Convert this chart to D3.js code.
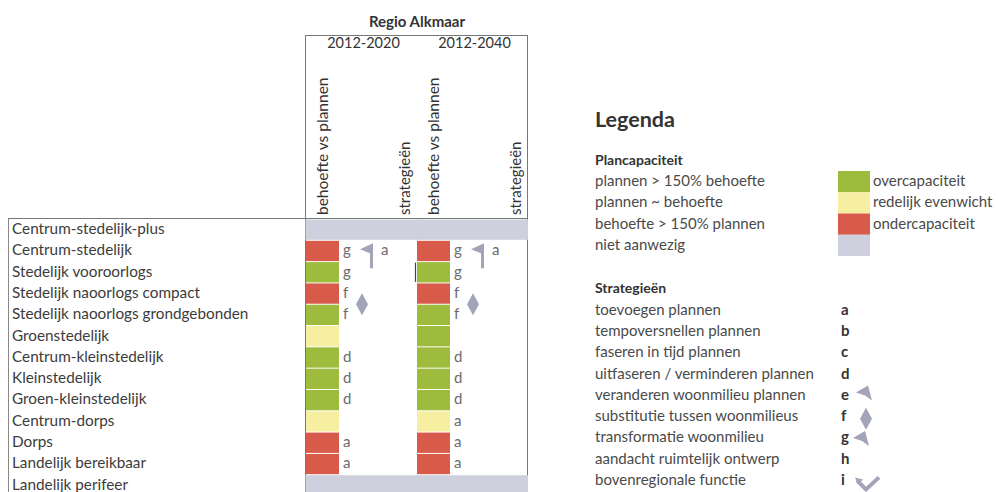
<!DOCTYPE html>
<html>
<head>
<meta charset="utf-8">
<script src="https://cdn.jsdelivr.net/npm/d3@7"></script>
<style>
  body { margin: 0; background: #fff; }
  text { font-family: Lato, "Noto Sans", sans-serif; }
</style>
</head>
<body>
<svg id="chart" width="998" height="492"></svg>
<script>
// woonmilieus (rows of the table)
const woonmilieus = [
    "Centrum-stedelijk-plus", "Centrum-stedelijk", "Stedelijk vooroorlogs",
    "Stedelijk naoorlogs compact", "Stedelijk naoorlogs grondgebonden", "Groenstedelijk",
    "Centrum-kleinstedelijk", "Kleinstedelijk", "Groen-kleinstedelijk",
    "Centrum-dorps", "Dorps", "Landelijk bereikbaar", "Landelijk perifeer"
];
const periods = ["2012-2020", "2012-2040"];

// plancapaciteit per periode: over / evenwicht / onder / na (niet aanwezig)
const capaciteit2020 = ["na", "onder", "over", "onder", "over", "evenwicht", "over", "over", "over", "evenwicht", "onder", "onder", "na"];
const capaciteit2040 = ["na", "onder", "over", "onder", "over", "over", "over", "over", "over", "evenwicht", "onder", "onder", "na"];

// strategie letters per periode
const strategie2020 = ["", "g", "g", "f", "f", "", "d", "d", "d", "", "a", "a", ""];
const strategie2040 = ["", "g", "g", "f", "f", "", "d", "d", "d", "a", "a", "a", ""];

// extra symbolen in de strategie kolom (zelfde in beide periodes)
const extraRows = ["Centrum-stedelijk", "Stedelijk naoorlogs compact"];
const extraIcons = ["g", "f"];
const extraLetters = ["a", ""];

// legenda
const planKlassen = ["over", "evenwicht", "onder", "na"];
const planOmschrijving = ["plannen > 150% behoefte", "plannen ~ behoefte", "behoefte > 150% plannen", "niet aanwezig"];
const planLabels = ["overcapaciteit", "redelijk evenwicht", "ondercapaciteit", ""];
const strategieCodes = ["a", "b", "c", "d", "e", "f", "g", "h", "i"];
const strategieNamen = [
    "toevoegen plannen", "tempoversnellen plannen", "faseren in tijd plannen",
    "uitfaseren / verminderen plannen", "veranderen woonmilieu plannen",
    "substitutie tussen woonmilieus", "transformatie woonmilieu",
    "aandacht ruimtelijk ontwerp", "bovenregionale functie"
];
const strategieMetIcoon = ["e", "f", "g", "i"];

const svg = d3.select("#chart");

const color = d3.scaleOrdinal()
    .domain(planKlassen)
    .range(["#9dbb3c", "#f6efa2", "#d75a4a", "#cfd0de"]);

const iconColor = "#a4a4b8";
const textColor = "#3c3c3c";

const y = d3.scaleBand().domain(woonmilieus).range([219, 496]);
const x = d3.scaleBand().domain(periods).range([306, 528]);
const cellW = 33;

// ---- frames
svg.append("rect")
    .attr("x", 8.5).attr("y", 218.5)
    .attr("width", 297).attr("height", 300)
    .attr("fill", "none").attr("stroke", "#888");

svg.append("rect")
    .attr("x", 305.5).attr("y", 35.5)
    .attr("width", 222).attr("height", 480)
    .attr("fill", "none").attr("stroke", "#777");

svg.append("line")
    .attr("x1", 8).attr("x2", 528)
    .attr("y1", 218.5).attr("y2", 218.5)
    .attr("stroke", "#777");

// ---- headers
svg.append("text")
    .attr("x", 417).attr("y", 27)
    .attr("text-anchor", "middle")
    .attr("font-size", 15).attr("font-weight", "bold")
    .attr("fill", "#333")
    .text("Regio Alkmaar");

svg.selectAll(".year")
    .data(periods)
    .enter().append("text")
    .attr("class", "year")
    .attr("x", d => x(d) + x.bandwidth() / 2 + 2)
    .attr("y", 48)
    .attr("text-anchor", "middle")
    .attr("font-size", 14.5)
    .attr("fill", "#333")
    .text(d => d);

periods.forEach(p => {
    [["behoefte vs plannen", 22, 15.5], ["strategieën", 104, 15]].forEach(([label, dx, fs]) => {
        svg.append("text")
            .attr("transform", `translate(${x(p) + dx},215) rotate(-90)`)
            .attr("font-size", fs)
            .attr("fill", "#333")
            .text(label);
    });
});

// ---- row labels
svg.selectAll(".rowlabel")
    .data(woonmilieus)
    .enter().append("text")
    .attr("class", "rowlabel")
    .attr("x", 12)
    .attr("y", d => y(d) + 15)
    .attr("font-size", 15.3)
    .attr("fill", textColor)
    .text(d => d);

// ---- cells
const cellData = [];
woonmilieus.forEach((w, i) => {
    cellData.push({ row: w, period: periods[0], cap: capaciteit2020[i], strat: strategie2020[i] });
    cellData.push({ row: w, period: periods[1], cap: capaciteit2040[i], strat: strategie2040[i] });
});

svg.selectAll(".cell")
    .data(cellData)
    .enter().append("rect")
    .attr("class", "cell")
    .attr("x", d => d.cap === "na" ? x(d.period) - 0.5 : x(d.period))
    .attr("y", d => y(d.row) + 0.5)
    .attr("width", d => d.cap === "na" ? x.bandwidth() + 0.5 : cellW)
    .attr("height", y.bandwidth() - 1)
    .attr("fill", d => color(d.cap));

svg.selectAll(".strat")
    .data(cellData.filter(d => d.strat))
    .enter().append("text")
    .attr("class", "strat")
    .attr("x", d => x(d.period) + 37)
    .attr("y", d => y(d.row) + 15)
    .attr("font-size", 15)
    .attr("fill", "#6c6c6c")
    .text(d => d.strat);

// stray mark in the scan
svg.append("line")
    .attr("x1", x(periods[1]) - 1.5).attr("x2", x(periods[1]) - 1.5)
    .attr("y1", y("Stedelijk vooroorlogs") + 1).attr("y2", y("Stedelijk vooroorlogs") + y.bandwidth() - 1)
    .attr("stroke", "#444").attr("stroke-width", 1.2);

// icons
function drawIcon(g, type, big) {
    if (type === "g" && big) {
        g.append("path").attr("d", "M0,6 L13,0 L13,25 L10,25 L10,10 Z").attr("fill", iconColor);
    } else if (type === "g" || type === "e") {
        g.append("path").attr("d", "M0,7 L12,0 L16,15 L9,10 Z").attr("fill", iconColor);
    } else if (type === "f") {
        g.append("path").attr("d", "M6,0 L12,11 L6,22 L0,11 Z").attr("fill", iconColor);
    } else if (type === "i") {
        g.append("path").attr("d", "M2,3 L11,12 L24,0")
            .attr("fill", "none").attr("stroke", iconColor).attr("stroke-width", 4);
        g.append("path").attr("d", "M0,0 L8,2 L3,7 Z").attr("fill", iconColor);
    }
}

periods.forEach(p => {
    extraRows.forEach((r, i) => {
        const icon = extraIcons[i];
        const g = svg.append("g");
        if (icon === "g") {
            g.attr("transform", `translate(${x(p) + 54},${y(r) + 3})`);
        } else {
            g.attr("transform", `translate(${x(p) + 50},${y(r) + y.bandwidth() - 11})`);
        }
        drawIcon(g, icon, true);
        if (extraLetters[i]) {
            svg.append("text")
                .attr("x", x(p) + 75)
                .attr("y", y(r) + 15)
                .attr("font-size", 15)
                .attr("fill", "#6c6c6c")
                .text(extraLetters[i]);
        }
    });
});

// ---- legend
const lx = 595;
svg.append("text")
    .attr("x", lx).attr("y", 127)
    .attr("font-family", "'DejaVu Sans', sans-serif")
    .attr("font-size", 21.5).attr("font-weight", "bold")
    .attr("fill", "#333")
    .text("Legenda");

svg.append("text")
    .attr("x", lx).attr("y", 165)
    .attr("font-size", 14).attr("font-weight", "bold")
    .attr("fill", "#333")
    .text("Plancapaciteit");

const planY = d3.scaleBand().domain(planKlassen).range([171, 256]);

svg.selectAll(".planText")
    .data(planKlassen)
    .enter().append("text")
    .attr("x", lx)
    .attr("y", d => planY(d) + 15)
    .attr("font-size", 15)
    .attr("fill", "#4a4a4a")
    .text((d, i) => planOmschrijving[i]);

svg.selectAll(".planSwatch")
    .data(planKlassen)
    .enter().append("rect")
    .attr("x", 838)
    .attr("y", d => planY(d))
    .attr("width", 32)
    .attr("height", planY.bandwidth())
    .attr("fill", d => color(d));

svg.selectAll(".planLabel")
    .data(planKlassen)
    .enter().append("text")
    .attr("x", 873)
    .attr("y", d => planY(d) + 15)
    .attr("font-size", 15)
    .attr("fill", "#4a4a4a")
    .text((d, i) => planLabels[i]);

svg.append("text")
    .attr("x", lx).attr("y", 293)
    .attr("font-size", 14).attr("font-weight", "bold")
    .attr("fill", "#333")
    .text("Strategieën");

const stratY = d3.scaleBand().domain(strategieCodes).range([300, 491]);

svg.selectAll(".stratName")
    .data(strategieCodes)
    .enter().append("text")
    .attr("x", lx)
    .attr("y", d => stratY(d) + 15)
    .attr("font-size", 15)
    .attr("fill", "#4a4a4a")
    .text((d, i) => strategieNamen[i]);

svg.selectAll(".stratCode")
    .data(strategieCodes)
    .enter().append("text")
    .attr("x", 841)
    .attr("y", d => stratY(d) + 15)
    .attr("font-size", 15).attr("font-weight", "bold")
    .attr("fill", "#333")
    .text(d => d);

strategieMetIcoon.forEach(c => {
    const offsets = { e: [856, -10], f: [860, -9], g: [853, -7], i: [855, -3] };
    const g = svg.append("g")
        .attr("transform", `translate(${offsets[c][0]},${stratY(c) + stratY.bandwidth() / 2 + offsets[c][1]})`);
    drawIcon(g, c, false);
});
</script>
</body>
</html>
